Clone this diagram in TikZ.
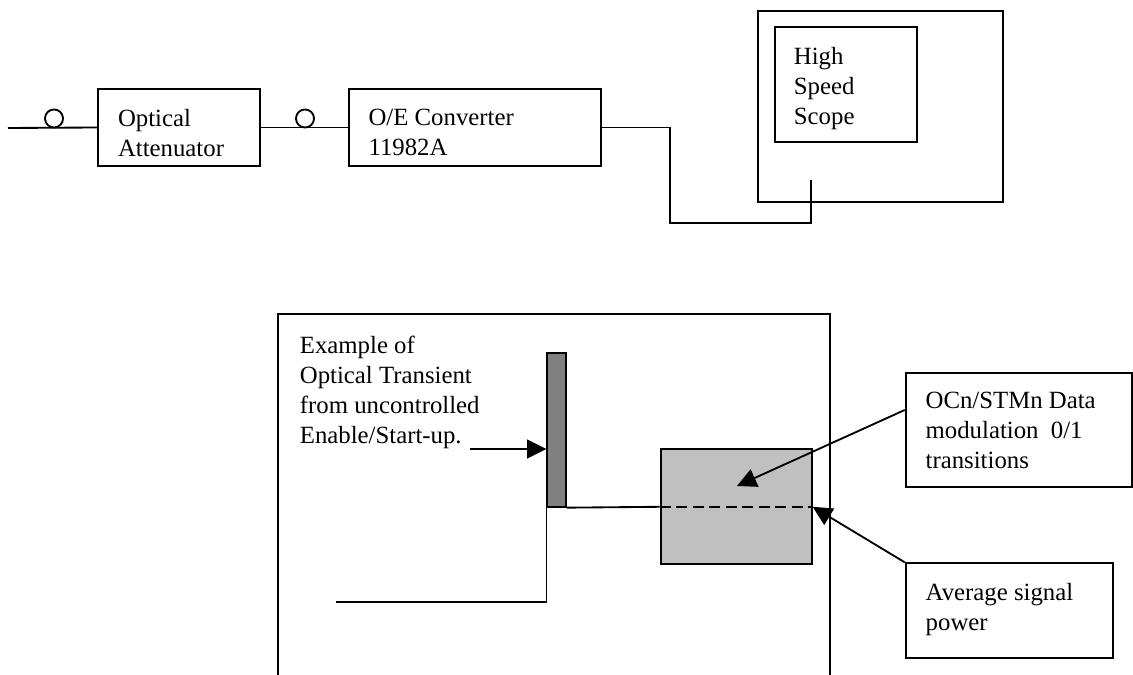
\documentclass[tikz,border=0pt]{standalone}
\usepackage{fontspec}
\setmainfont{Liberation Serif}
\usetikzlibrary{arrows.meta}
\definecolor{bargray}{RGB}{128,128,128}
\definecolor{boxgray}{RGB}{192,192,192}

\begin{document}
\begin{tikzpicture}[x=0.46pt, y=-0.46pt, line width=0.85pt,
  every node/.style={font=\fontsize{11.4pt}{13.8pt}\selectfont},
  blk/.style={draw, inner sep=0pt},
  txt/.style={anchor=north west, align=left, inner sep=0pt},
  plug/.style={draw, circle, inner sep=0pt, minimum size=8.3pt},
  pointer/.style={-{Triangle[length=8.9pt,width=8.7pt]}}]
  \useasboundingbox (0,0) rectangle (1133,675);
  % test set-up
  \coordinate (fibre) at (8,128);
  \node[blk, minimum width=74.5pt, minimum height=35.4pt] (att) at (179,127.5) {};
  \node[txt] (attlbl) at ([xshift=9.2pt,yshift=-9.4pt]att.north west) {Optical\\Attenuator};
  \node[blk, minimum width=115.9pt, minimum height=35.4pt] (oe) at (475,127.5) {};
  \node[txt] (oelbl) at ([xshift=9pt,yshift=-9.4pt]oe.north west) {O/E Converter\\11982A};
  \node[plug] (plugA) at (54,118.5) {};
  \node[plug] (plugB) at (305,118.5) {};
  \draw (fibre) -- (att.west);
  \draw (att.east) -- (oe.west);
  \node[blk, minimum width=112.7pt, minimum height=88.1pt] (scope) at (880.5,106.5) {};
  \node[blk, minimum width=65.3pt, minimum height=53.2pt] (hss) at (846,84.5) {};
  \node[txt] (hsslbl) at ([xshift=8.7pt,yshift=-9.3pt]hss.north west) {High\\Speed\\Scope};
  \coordinate (probe) at (811,180);
  \draw (oe.east) -| (670,223) -| (probe);
  % scope screen
  \draw (278,675) |- (830,314.3) -- (830,675);
  \node[txt] (note) at (299,335) {Example of\\Optical Transient\\from uncontrolled\\Enable/Start-up.};
  \node[blk, fill=bargray, minimum width=8.6pt, minimum height=70.6pt] (burst) at (556.7,430) {};
  \node[blk, fill=boxgray, minimum width=69.5pt, minimum height=52.9pt] (mod) at (736.2,506.8) {};
  \coordinate (burstin) at (470,449);
  \draw[pointer] (burstin) -- (burstin -| burst.west);
  \coordinate (lowlvl) at (336,602.3);
  \draw (lowlvl) -| (burst.south west);
  \draw (burst.south east) -- (mod.west);
  \draw[dash pattern=on 5pt off 2.6pt] (mod.west) -- (mod.east);
  % callouts
  \node[blk, minimum width=104.1pt, minimum height=52.7pt] (ocn) at (1018.8,430) {};
  \node[txt] (ocnlbl) at ([xshift=9.2pt,yshift=-9pt]ocn.north west) {OCn/STMn Data\\modulation~~0/1\\transitions};
  \node[blk, minimum width=95.2pt, minimum height=43.7pt] (avg) at (1009.2,610.8) {};
  \node[txt] (avglbl) at ([xshift=9.2pt,yshift=-9pt]avg.north west) {Average signal\\power};
  \coordinate (modtip) at (737,486);
  \draw[pointer] ([yshift=9.2pt]ocn.west) -- (modtip);
  \draw[pointer] (avg.north west) -- (mod.east);
\end{tikzpicture}
\end{document}
